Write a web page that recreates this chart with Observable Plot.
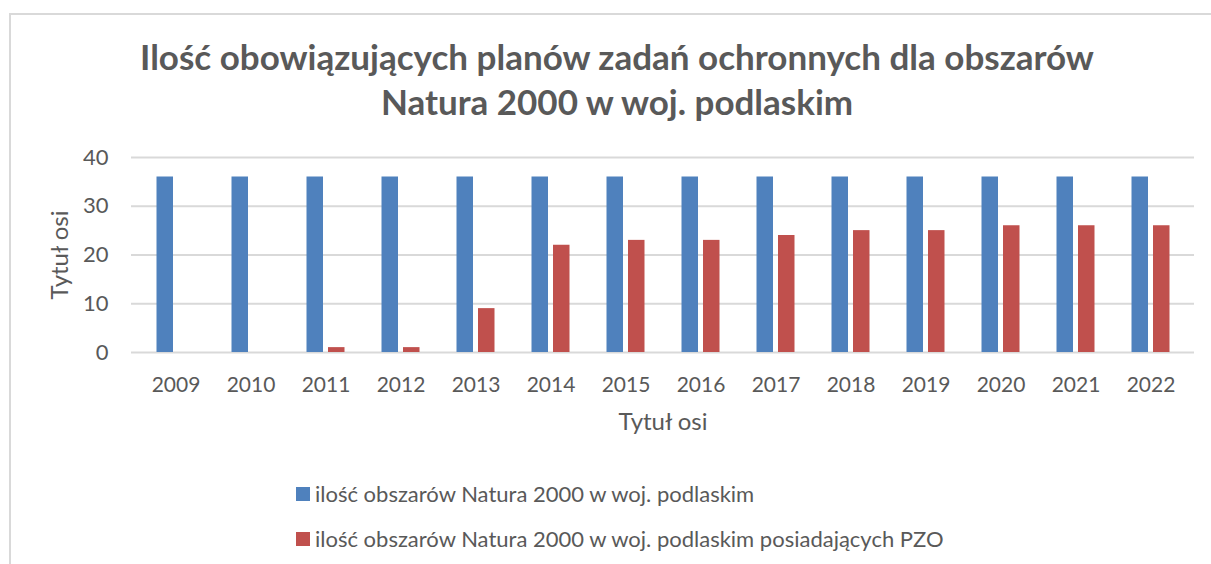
<!DOCTYPE html>
<html>
<head>
<meta charset="utf-8">
<script src="https://cdn.jsdelivr.net/npm/d3@7"></script>
<script src="https://cdn.jsdelivr.net/npm/@observablehq/plot@0.6"></script>
<style>
  html, body { margin: 0; padding: 0; background: #fff; }
  #wrap { position: relative; width: 1211px; height: 564px; overflow: hidden; font-family: Lato, "Open Sans", sans-serif; color: #595959; }
  #border { position: absolute; left: 9px; top: 13px; width: 1300px; height: 700px; border: 2px solid #d9d9d9; box-sizing: border-box; }
  #title { position: absolute; left: 0; width: 1234px; top: 34px; text-align: center; font-weight: 700; font-size: 35px; line-height: 45px; color: #595959; }
  #chart { position: absolute; left: 0; top: 0; }
  .legend { position: absolute; left: 296px; font-size: 22px; line-height: 24px; }
  .legend .row { display: flex; align-items: center; height: 24px; margin-bottom: 21px; }
  .legend .sw { width: 14px; height: 14px; margin-right: 5px; flex: none; }
</style>
</head>
<body>
<div id="wrap">
  <div id="border"></div>
  <div id="chart"></div>
  <div id="title"></div>
  <div class="legend" id="legend" style="top:482px"></div>
</div>
<script>
const titleLines = ["Ilość obowiązujących planów zadań ochronnych dla obszarów", "Natura 2000 w woj. podlaskim"];
const years = ["2009","2010","2011","2012","2013","2014","2015","2016","2017","2018","2019","2020","2021","2022"];
const totalAreas = [36,36,36,36,36,36,36,36,36,36,36,36,36,36];
const areasWithPZO = [0,0,1,1,9,22,23,23,24,25,25,26,26,26];
const seriesNames = ["ilość obszarów Natura 2000 w woj. podlaskim", "ilość obszarów Natura 2000 w woj. podlaskim posiadających PZO"];
const seriesColors = ["#4F81BD", "#C0504D"];
const yTicks = [0, 10, 20, 30, 40];
const axisTitleX = "Tytuł osi";
const axisTitleY = "Tytuł osi";

const dataTotal = years.map((y, i) => ({year: y, series: seriesNames[0], value: totalAreas[i]}));
const dataPZO = years.map((y, i) => ({year: y, series: seriesNames[1], value: areasWithPZO[i]}));

document.getElementById("title").innerHTML = titleLines.join("<br>");

const chart = Plot.plot({
  width: 1211,
  height: 564,
  marginLeft: 131,
  marginRight: 17,
  marginTop: 157,
  marginBottom: 212,
  style: {fontFamily: "Lato, 'Open Sans', sans-serif", fontSize: "21px", color: "#595959", background: "transparent", overflow: "visible"},
  x: {domain: years, padding: 0},
  y: {domain: [0, 40]},
  color: {domain: seriesNames, range: seriesColors},
  marks: [
    Plot.ruleY(yTicks, {stroke: "#d9d9d9", strokeWidth: 2}),
    Plot.barY(dataTotal, {x: "year", y: "value", fill: "series", insetLeft: 18.5, insetRight: 40}),
    Plot.barY(dataPZO, {x: "year", y: "value", fill: "series", insetLeft: 40, insetRight: 18.5}),
    Plot.axisX({tickSize: 0, tickPadding: 25, label: null, fill: "#595959", fontSize: 21}),
    Plot.axisY({ticks: yTicks, tickSize: 0, tickPadding: 23, label: null, fill: "#595959", fontSize: 22}),
    Plot.text([axisTitleX], {frameAnchor: "bottom", dy: 70, textAnchor: "middle", lineAnchor: "middle", fontSize: 24, fill: "#595959"}),
    Plot.text([axisTitleY], {frameAnchor: "left", dx: -71, rotate: -90, textAnchor: "middle", lineAnchor: "middle", fontSize: 24, fill: "#595959"})
  ]
});
document.getElementById("chart").appendChild(chart);

const legend = document.getElementById("legend");
seriesNames.forEach((name, i) => {
  const row = document.createElement("div");
  row.className = "row";
  const sw = document.createElement("span");
  sw.className = "sw";
  sw.style.background = seriesColors[i];
  const label = document.createElement("span");
  label.textContent = name;
  row.appendChild(sw);
  row.appendChild(label);
  legend.appendChild(row);
});
</script>
</body>
</html>
